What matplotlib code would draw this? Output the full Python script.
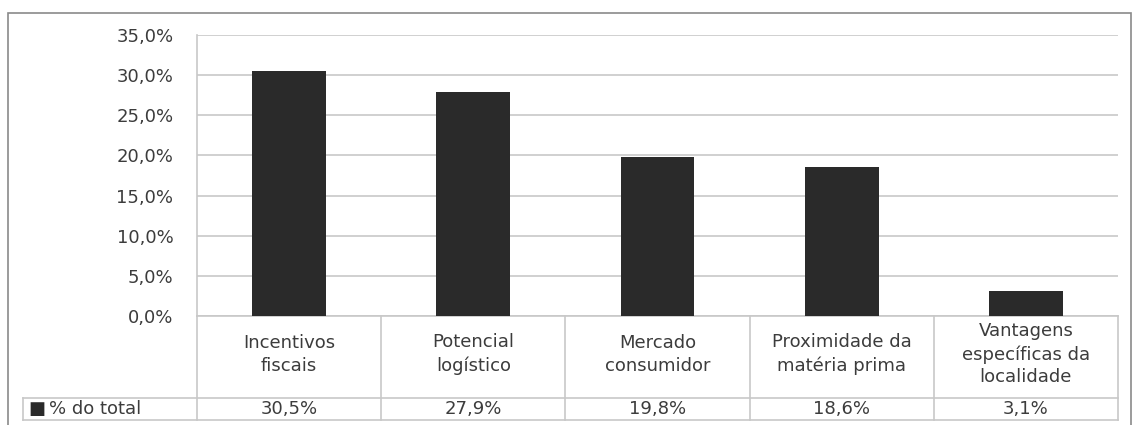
import matplotlib
matplotlib.use("Agg")
import matplotlib.pyplot as plt
from matplotlib.patches import Rectangle
import matplotlib.transforms as mtransforms

categories = ["Incentivos\nfiscais", "Potencial\nlogístico", "Mercado\nconsumidor",
              "Proximidade da\nmatéria prima", "Vantagens\nespecíficas da\nlocalidade"]
values = [30.5, 27.9, 19.8, 18.6, 3.1]
value_labels = ["30,5%", "27,9%", "19,8%", "18,6%", "3,1%"]
series_name = "% do total"
yticks = [0, 5, 10, 15, 20, 25, 30, 35]
ytick_labels = ["0,0%", "5,0%", "10,0%", "15,0%", "20,0%", "25,0%", "30,0%", "35,0%"]

W, H = 1133, 425
fig = plt.figure(figsize=(W / 100, H / 100), dpi=100)
plt.rcParams['font.family'] = ['DejaVu Sans']
txt = "#3c3c3c"
grid = "#c8c8c8"
bar_c = "#2a2a2a"
fs = 13

# outer border
fig.patches.append(Rectangle((8 / W, -0.1), (1131 - 8) / W, 1.1 - 13 / H,
                             transform=fig.transFigure, fill=False,
                             edgecolor="#8a8a8a", linewidth=1.2))

left, right, top, bottom = 197, 1118, 35, 316
ax = fig.add_axes([left / W, (H - bottom) / H, (right - left) / W, (bottom - top) / H])
x = list(range(len(values)))
ax.bar(x, values, width=0.4, color=bar_c, zorder=3)
ax.set_xlim(-0.5, len(values) - 0.5)
ax.set_ylim(0, 35)
ax.set_yticks(yticks)
ax.set_yticklabels(ytick_labels, fontsize=fs, color=txt)
ax.tick_params(axis='y', length=0, pad=17)
ax.set_xticks([])
ax.grid(axis='y', color=grid, linewidth=1.2, zorder=0)
for s in ["top", "right", "bottom"]:
    ax.spines[s].set_visible(False)
ax.spines["left"].set_color(grid)
ax.spines["left"].set_linewidth(1.2)

# data table
trans = mtransforms.blended_transform_factory(ax.transData, ax.transAxes)
ph = bottom - top
r1 = -(398 - bottom) / ph
r2 = -(420 - bottom) / ph
legend_left = -0.5 - (left - 23) / ((right - left) / len(values))
n = len(values)
lkw = dict(color=grid, linewidth=1.2, transform=trans, clip_on=False)
ax.plot([-0.5, n - 0.5], [0, 0], **lkw)
ax.plot([legend_left, n - 0.5], [r1, r1], **lkw)
ax.plot([legend_left, n - 0.5], [r2, r2], **lkw)
for i in range(n + 1):
    ax.plot([i - 0.5, i - 0.5], [0, r2], **lkw)
ax.plot([legend_left, legend_left], [r1, r2], **lkw)

for i, (c, v) in enumerate(zip(categories, value_labels)):
    ax.text(i, r1 / 2 + 0.01, c, ha='center', va='center', fontsize=fs, color=txt,
            transform=trans, linespacing=1.35)
    ax.text(i, (r1 + r2) / 2, v, ha='center', va='center', fontsize=fs, color=txt,
            transform=trans)

ax.text(legend_left + 0.03, (r1 + r2) / 2, "\u25a0", ha='left', va='center', fontsize=13,
        color=bar_c, transform=trans)
ax.text(legend_left + 0.14, (r1 + r2) / 2, series_name, ha='left', va='center',
        fontsize=fs, color=txt, transform=trans)

fig.savefig("out.png", dpi=100)
